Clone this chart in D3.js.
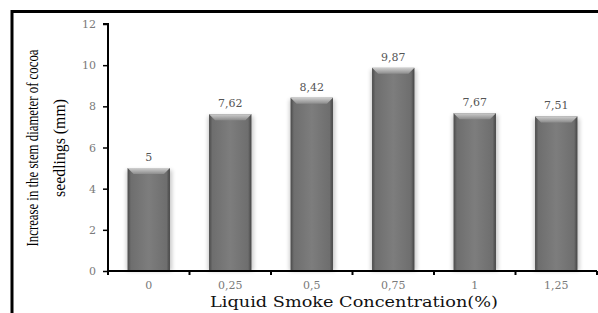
<!DOCTYPE html>
<html>
<head>
<meta charset="utf-8">
<script src="https://cdn.jsdelivr.net/npm/d3@7"></script>
<style>
  body { margin: 0; background: #fff; }
  svg { display: block; }
</style>
</head>
<body>
<svg id="chart" width="598" height="313"></svg>
<script>
// data
var categories = ["0", "0,25", "0,5", "0,75", "1", "1,25"];
var values = [5, 7.62, 8.42, 9.87, 7.67, 7.51];
var valueLabels = ["5", "7,62", "8,42", "9,87", "7,67", "7,51"];
var yTicks = [0, 2, 4, 6, 8, 10, 12];

var svg = d3.select("#chart"),
    width = +svg.attr("width"),
    height = +svg.attr("height");

var margin = { left: 108, right: 1, top: 24, bottom: 42 };

var x = d3.scaleBand()
    .domain(categories)
    .range([margin.left, width - margin.right])
    .paddingInner(0.48)
    .paddingOuter(0.24);

var y = d3.scaleLinear()
    .domain([0, 12])
    .range([height - margin.bottom, margin.top]);

// gradients for the bars
var defs = svg.append("defs");
var grad = defs.append("linearGradient").attr("id", "barGrad")
    .attr("x1", "0%").attr("x2", "100%").attr("y1", "0%").attr("y2", "0%");
grad.append("stop").attr("offset", "0%").attr("stop-color", "#4a4a4a");
grad.append("stop").attr("offset", "8%").attr("stop-color", "#6e6e6e");
grad.append("stop").attr("offset", "50%").attr("stop-color", "#7d7d7d");
grad.append("stop").attr("offset", "92%").attr("stop-color", "#6e6e6e");
grad.append("stop").attr("offset", "100%").attr("stop-color", "#444");

var topGrad = defs.append("linearGradient").attr("id", "topGrad")
    .attr("x1", "0%").attr("x2", "0%").attr("y1", "0%").attr("y2", "100%");
topGrad.append("stop").attr("offset", "0%").attr("stop-color", "#cfcfcf");
topGrad.append("stop").attr("offset", "100%").attr("stop-color", "#8c8c8c");

var shadow = defs.append("filter").attr("id", "shadow")
    .attr("x", "-30%").attr("y", "-10%").attr("width", "160%").attr("height", "130%");
shadow.append("feGaussianBlur").attr("stdDeviation", 2);

// frame
svg.append("path")
    .attr("d", "M12,313 V11.5 H598")
    .attr("fill", "none")
    .attr("stroke", "#000")
    .attr("stroke-width", 3);

// bars
var bars = svg.append("g").selectAll("g")
    .data(values)
    .enter().append("g");

bars.append("rect")
    .attr("x", function (d, i) { return x(categories[i]) - 1; })
    .attr("y", function (d) { return y(d) + 2; })
    .attr("width", x.bandwidth() + 3)
    .attr("height", function (d) { return y(0) - y(d) - 2; })
    .attr("fill", "#000")
    .attr("opacity", 0.22)
    .attr("filter", "url(#shadow)");

bars.append("rect")
    .attr("x", function (d, i) { return x(categories[i]); })
    .attr("y", function (d) { return y(d); })
    .attr("width", x.bandwidth())
    .attr("height", function (d) { return y(0) - y(d); })
    .attr("fill", "url(#barGrad)");

// bevel on top of each bar
bars.append("path")
    .attr("d", function (d, i) {
        var x0 = x(categories[i]), x1 = x0 + x.bandwidth(), t = y(d), b = 6;
        return "M" + x0 + "," + t + "H" + x1 + "L" + (x1 - b) + "," + (t + b) +
            "H" + (x0 + b) + "Z";
    })
    .attr("fill", "url(#topGrad)");

// value labels
bars.append("text")
    .attr("x", function (d, i) { return x(categories[i]) + x.bandwidth() / 2; })
    .attr("y", function (d) { return y(d) - 7; })
    .attr("text-anchor", "middle")
    .style("font-family", "DejaVu Serif")
    .style("font-size", "11px")
    .style("fill", "#555")
    .text(function (d, i) { return valueLabels[i]; });

// y axis
var yAxis = svg.append("g")
    .attr("transform", "translate(" + margin.left + ",0)")
    .call(d3.axisLeft(y).tickValues(yTicks).tickSize(5).tickPadding(7)
        .tickFormat(d3.format("d")));
yAxis.select(".domain").attr("stroke-width", 2).attr("d", "M-5," + y(12) + "H0V" + y(0));
yAxis.selectAll(".tick line").attr("stroke-width", 1.5);
yAxis.selectAll("text")
    .style("font-family", "DejaVu Serif")
    .style("font-size", "11px")
    .style("fill", "#7a7a7a");

// x axis
var xAxis = svg.append("g")
    .attr("transform", "translate(0," + y(0) + ")")
    .call(d3.axisBottom(x).tickSize(0).tickPadding(10));
xAxis.select(".domain").attr("stroke-width", 2)
    .attr("d", "M" + margin.left + ",0H" + (width - margin.right));
xAxis.selectAll("text")
    .style("font-family", "DejaVu Serif")
    .style("font-size", "11px")
    .style("fill", "#7a7a7a");

// tick marks between categories
var step = x.step();
var start = x(categories[0]) - x.paddingOuter() * step;
var bounds = d3.range(categories.length + 1).map(function (i) { return start + i * step; });
xAxis.selectAll(".sep")
    .data(bounds)
    .enter().append("line")
    .attr("class", "sep")
    .attr("x1", function (d) { return d; })
    .attr("x2", function (d) { return d; })
    .attr("y1", 0)
    .attr("y2", 4)
    .attr("stroke", "#000")
    .attr("stroke-width", 2);

// squeeze a text to a given length along its own direction
function squeeze(sel, len) {
    var natural = sel.node().getComputedTextLength();
    sel.attr("transform", (sel.attr("transform") || "") + " scale(" + (len / natural) + ",1)");
}

// axis titles
var xTitle = svg.append("text")
    .attr("transform", "translate(354,307)")
    .attr("text-anchor", "middle")
    .style("font-family", "DejaVu Serif")
    .style("font-size", "15px")
    .style("fill", "#111")
    .text("Liquid Smoke Concentration(%)");
squeeze(xTitle, 288);

var t1 = svg.append("text")
    .attr("transform", "translate(38,148) rotate(-90)")
    .attr("text-anchor", "middle")
    .style("font-family", "Liberation Serif")
    .style("font-size", "17px")
    .style("fill", "#000")
    .text("Increase in the stem diameter of cocoa");
squeeze(t1, 197);

var t2 = svg.append("text")
    .attr("transform", "translate(65,148) rotate(-90)")
    .attr("text-anchor", "middle")
    .style("font-family", "Liberation Serif")
    .style("font-size", "17px")
    .style("fill", "#000")
    .text("seedlings (mm)");
squeeze(t2, 98);
</script>
</body>
</html>
